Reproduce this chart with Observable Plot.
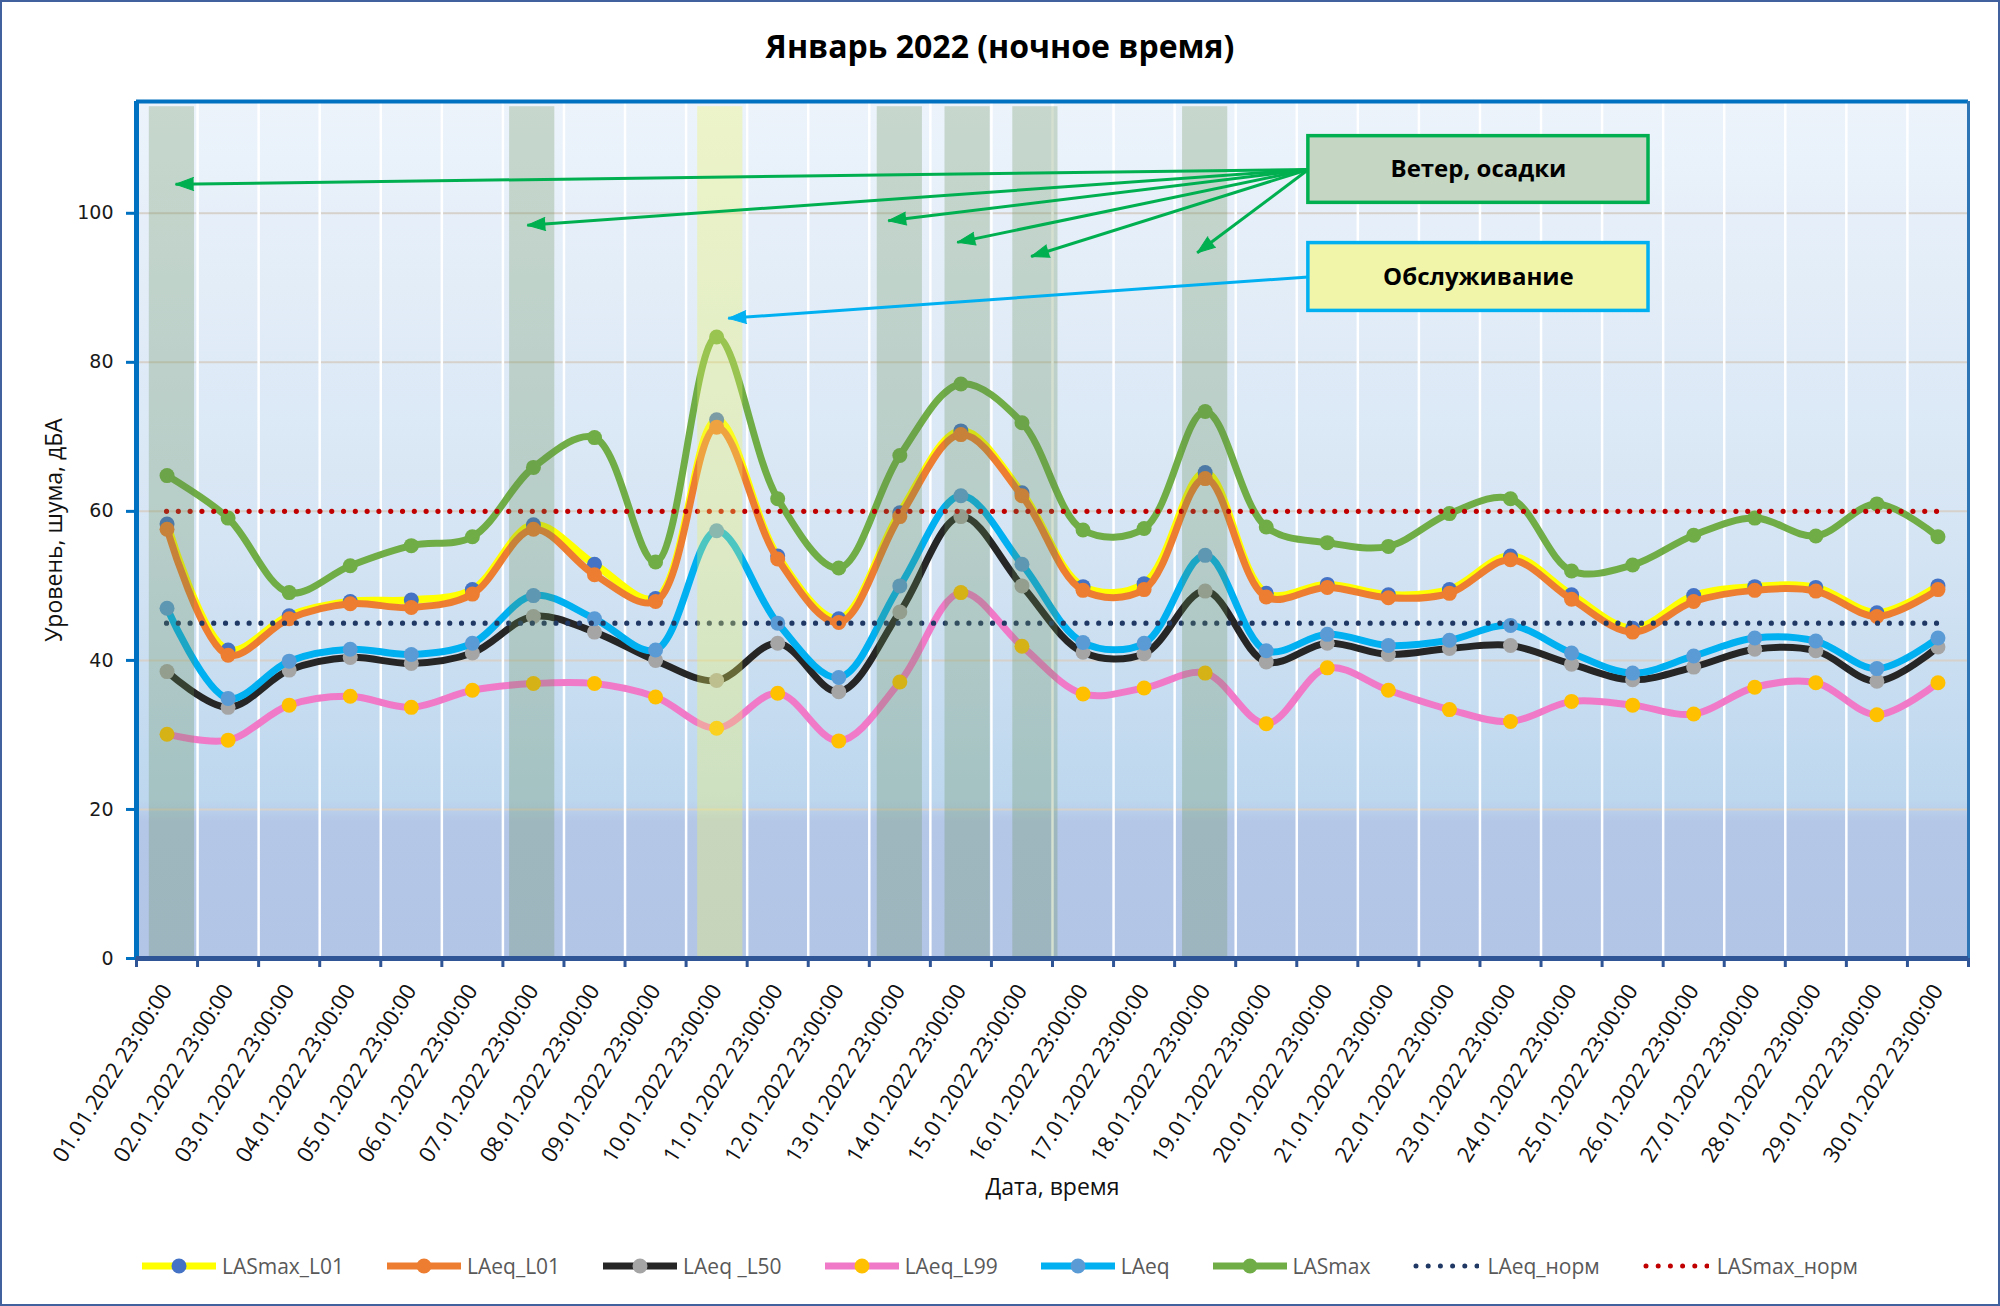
<!DOCTYPE html>
<html><head><meta charset="utf-8">
<script src="https://cdn.jsdelivr.net/npm/d3@7"></script>
<script src="https://cdn.jsdelivr.net/npm/@observablehq/plot@0.6"></script>
<style>
html,body{margin:0;padding:0;background:#fff;}
#chart{position:relative;width:2000px;height:1306px;overflow:hidden;font-family:"Open Sans",sans-serif;background:#fff;}
#plot{position:absolute;left:0;top:0;width:2000px;}
#title{position:absolute;left:0;top:24px;width:2000px;text-align:center;font-size:32px;font-weight:700;color:#000;line-height:44px;}
#legend{position:absolute;left:142px;top:1250px;height:32px;display:flex;align-items:center;font-size:21px;color:#595959;white-space:nowrap;}
#legend .item{display:flex;align-items:center;margin-right:43px;}
#legend .item span{margin-left:6px;}
#border{position:absolute;left:0;top:0;width:2000px;height:1306px;box-sizing:border-box;border:2px solid #41609e;pointer-events:none;}
</style>
</head><body>
<div id="chart">
  <div id="plot"></div>
  <div id="title"></div>
  <div id="legend"></div>
  <div id="border"></div>
</div>
<script>
// ---------- data ----------
const chartTitle = "Январь 2022 (ночное время)";
const xTitle = "Дата, время";
const yTitle = "Уровень, шума, дБА";
const dates = [
  "01.01.2022 23:00:00","02.01.2022 23:00:00","03.01.2022 23:00:00","04.01.2022 23:00:00","05.01.2022 23:00:00",
  "06.01.2022 23:00:00","07.01.2022 23:00:00","08.01.2022 23:00:00","09.01.2022 23:00:00","10.01.2022 23:00:00",
  "11.01.2022 23:00:00","12.01.2022 23:00:00","13.01.2022 23:00:00","14.01.2022 23:00:00","15.01.2022 23:00:00",
  "16.01.2022 23:00:00","17.01.2022 23:00:00","18.01.2022 23:00:00","19.01.2022 23:00:00","20.01.2022 23:00:00",
  "21.01.2022 23:00:00","22.01.2022 23:00:00","23.01.2022 23:00:00","24.01.2022 23:00:00","25.01.2022 23:00:00",
  "26.01.2022 23:00:00","27.01.2022 23:00:00","28.01.2022 23:00:00","29.01.2022 23:00:00","30.01.2022 23:00:00"
];
const lasmaxL01 = [58.3,41.4,46.0,47.9,48.1,49.5,58.2,52.9,48.3,72.3,54.0,45.6,59.8,70.8,62.5,49.9,50.3,65.2,49.0,50.2,48.8,49.5,54.0,48.8,44.3,48.7,49.9,49.8,46.4,50.0];
const laeqL01   = [57.6,40.7,45.6,47.6,47.1,48.9,57.6,51.5,47.9,71.3,53.6,45.1,59.3,70.3,62.1,49.4,49.5,64.4,48.5,49.8,48.4,49.0,53.5,48.2,43.8,47.9,49.4,49.3,45.9,49.5];
const laeqL50   = [38.5,33.7,38.7,40.4,39.6,41.0,45.9,43.8,40.0,37.3,42.3,35.8,46.5,59.3,50.0,41.1,40.9,49.3,39.8,42.3,40.8,41.6,42.0,39.5,37.4,39.1,41.5,41.3,37.2,41.8];
const laeqL99   = [30.1,29.3,34.0,35.2,33.7,36.0,36.9,36.9,35.1,30.9,35.6,29.2,37.1,49.1,41.9,35.5,36.3,38.3,31.5,39.0,36.0,33.4,31.8,34.5,34.0,32.8,36.4,37.0,32.7,37.0];
const laeq      = [47.0,34.9,39.9,41.5,40.8,42.3,48.7,45.6,41.4,57.4,45.0,37.7,50.0,62.1,52.9,42.4,42.3,54.1,41.3,43.5,42.0,42.7,44.7,41.0,38.3,40.6,43.0,42.6,38.9,43.0];
const lasmax    = [64.8,59.1,49.1,52.7,55.4,56.6,65.9,69.9,53.2,83.4,61.7,52.4,67.5,77.1,71.9,57.5,57.7,73.4,57.9,55.8,55.3,59.7,61.7,52.0,52.8,56.8,59.1,56.7,61.0,56.6];
const normLAeq = 45;
const normLASmax = 60;
// shaded periods, centre positions on the category axis
const windBands = [0.08, 5.98, 12.0, 13.11, 14.22, 17.0];
const serviceBands = [9.06];
const yTicks = [0, 20, 40, 60, 80, 100];
const yMax = 115;
const bandTop = 114.3;
const windLabel = "Ветер, осадки";
const serviceLabel = "Обслуживание";
// annotation anchors, in data units (category index, dB)
const windBox = {x1: 18.69, x2: 24.26, y1: 101.4, y2: 110.35};
const serviceBox = {x1: 18.69, x2: 24.26, y1: 86.9, y2: 96.0};
const windTips = [[0.14,103.9],[5.90,98.4],[11.81,99.0],[12.94,96.1],[14.15,94.2],[16.87,94.7]];
const serviceTip = [9.19, 85.9];

const series = [
  {name: "LASmax_L01", values: lasmaxL01, line: "#FFFF00", marker: "#4472C4", width: 7.5},
  {name: "LAeq_L01",   values: laeqL01,   line: "#ED7D31", marker: "#ED7D31", width: 7},
  {name: "LAeq _L50",  values: laeqL50,   line: "#262626", marker: "#A5A5A5", width: 7},
  {name: "LAeq_L99",   values: laeqL99,   line: "#F07AC8", marker: "#FFC000", width: 7},
  {name: "LAeq",       values: laeq,      line: "#00B0F0", marker: "#5B9BD5", width: 7},
  {name: "LASmax",     values: lasmax,    line: "#70AD47", marker: "#70AD47", width: 7}
];
const norms = [
  {name: "LAeq_норм", value: normLAeq, color: "#203864"},
  {name: "LASmax_норм", value: normLASmax, color: "#C00000"}
];

// ---------- layout ----------
const W = 2000, H = 1232;
const base = {
  width: W, height: H,
  marginLeft: 136, marginRight: 32, marginTop: 101, marginBottom: H - 958,
  x: {domain: [-0.5, dates.length - 0.5], axis: null},
  y: {domain: [0, yMax], axis: null},
  color: {type: "identity"}
};
const probe = Plot.plot({...base, marks: [Plot.dot([0], {x: d => d, y: d => d})]});
const sx = probe.scale("x"), sy = probe.scale("y");

const wMid = (windBox.y1 + windBox.y2) / 2, sMid = (serviceBox.y1 + serviceBox.y2) / 2;
const arrows = windTips.map(([x, y]) => ({x1: windBox.x1, y1: wMid, x2: x, y2: y, color: "#00B050"}))
  .concat([{x1: serviceBox.x1, y1: sMid, x2: serviceTip[0], y2: serviceTip[1], color: "#00B0F0"}]);
arrows.forEach(a => {
  const dx = sx.apply(a.x2) - sx.apply(a.x1), dy = sy.apply(a.y2) - sy.apply(a.y1);
  a.angle = Math.atan2(dx, -dy) * 180 / Math.PI;
});

const idx = d3.range(dates.length);
const boundaries = d3.range(dates.length + 1).map(i => i - 0.5);
const FONT = "Open Sans";
const halfBand = 0.37;

function buildMarks(useSpike) {
  return [
    Plot.frame({fill: "url(#plotBg)", stroke: "none"}),
    Plot.ruleY(yTicks.filter(v => v > 0), {stroke: "#D6D1CB", strokeWidth: 2}),
    Plot.ruleX(boundaries.slice(1, -1), {stroke: "#ffffff", strokeWidth: 2.5}),
    ...series.flatMap(s => [
      Plot.line(s.values, {x: (d, i) => i, y: d => d, curve: "catmull-rom", stroke: s.line, strokeWidth: s.width}),
      Plot.dot(s.values, {x: (d, i) => i, y: d => d, r: 7.5, fill: s.marker})
    ]),
    ...norms.map(n => Plot.ruleY([n.value], {x1: 0, x2: dates.length - 1, stroke: n.color, strokeWidth: 5.2, strokeDasharray: "0 11.8", strokeLinecap: "round"})),
    Plot.rectY(windBands, {x1: c => c - halfBand, x2: c => c + halfBand, y1: 0, y2: bandTop, fill: "#648c50", fillOpacity: 0.27}),
    Plot.rectY(serviceBands, {x1: c => c - halfBand, x2: c => c + halfBand, y1: 0, y2: bandTop, fill: "#eef560", fillOpacity: 0.32}),
    Plot.ruleX([-0.5], {stroke: "#0070C0", strokeWidth: 5}),
    Plot.ruleY([yMax], {stroke: "#0070C0", strokeWidth: 4}),
    Plot.ruleX([dates.length - 0.5], {stroke: "#2E75B6", strokeWidth: 3}),
    Plot.axisY(yTicks, {tickSize: 10, tickPadding: 13, stroke: "#0070C0", strokeWidth: 3, fill: "#1a1a1a", fontSize: 19, fontFamily: "DejaVu Sans", label: null}),
    Plot.axisX(boundaries, {tickFormat: () => "", tickSize: 9, stroke: "#2F5597", strokeWidth: 3, label: null}),
    Plot.ruleY([0], {stroke: "#2F5597", strokeWidth: 5}),
    Plot.axisX(idx, {tickFormat: i => dates[i], tickRotate: -58, tickSize: 0, tickPadding: 28, fontSize: 22, fontFamily: FONT, fill: "#111", label: null}),
    Plot.link(arrows, {x1: "x1", y1: "y1", x2: "x2", y2: "y2", stroke: "color", strokeWidth: 3}),
    useSpike
      ? Plot.vector(arrows, {x: "x2", y: "y2", rotate: "angle", length: 18, r: 6.5, shape: "spike", anchor: "end", fill: "color", stroke: "color", strokeWidth: 1})
      : Plot.arrow(arrows, {x1: "x1", y1: "y1", x2: "x2", y2: "y2", stroke: "color", strokeWidth: 3, headLength: 14}),
    Plot.rect([windBox], {x1: "x1", x2: "x2", y1: "y1", y2: "y2", fill: "#C5D6C3", stroke: "#00B050", strokeWidth: 3.5}),
    Plot.rect([serviceBox], {x1: "x1", x2: "x2", y1: "y1", y2: "y2", fill: "#F0F5AA", stroke: "#00B0F0", strokeWidth: 3.5}),
    Plot.text([windBox], {x: d => (d.x1 + d.x2) / 2, y: d => (d.y1 + d.y2) / 2, text: () => windLabel, fontSize: 24, fontWeight: 700, fontFamily: FONT, fill: "#000"}),
    Plot.text([serviceBox], {x: d => (d.x1 + d.x2) / 2, y: d => (d.y1 + d.y2) / 2, text: () => serviceLabel, fontSize: 24, fontWeight: 700, fontFamily: FONT, fill: "#000"}),
    Plot.text([xTitle], {text: d => d, frameAnchor: "bottom", dy: 236, fontSize: 23, fontFamily: FONT, fill: "#111"}),
    Plot.text([yTitle], {text: d => d, frameAnchor: "left", textAnchor: "middle", rotate: -90, dx: -82, fontSize: 23, fontFamily: FONT, fill: "#111"})
  ];
}

let svg;
try {
  svg = Plot.plot({...base, marks: buildMarks(true)});
} catch (e) {
  svg = Plot.plot({...base, marks: buildMarks(false)});
}
svg.style.background = "transparent";
svg.style.overflow = "visible";
svg.style.maxWidth = "none";

const defs = d3.select(svg).insert("defs", ":first-child");
const grad = defs.append("linearGradient").attr("id", "plotBg").attr("x1", 0).attr("y1", 0).attr("x2", 0).attr("y2", 1);
[[0, "#ECF3FB"], [0.5, "#D6E5F4"], [0.815, "#BDD7EE"], [0.84, "#B4C7E7"], [1, "#B3C5E6"]]
  .forEach(([o, c]) => grad.append("stop").attr("offset", o).attr("stop-color", c));

document.getElementById("plot").appendChild(svg);
document.getElementById("title").textContent = chartTitle;

// ---------- legend ----------
const leg = d3.select("#legend");
series.forEach(s => {
  const it = leg.append("div").attr("class", "item");
  const sv = it.append("svg").attr("width", 74).attr("height", 20);
  sv.append("line").attr("x1", 0).attr("x2", 74).attr("y1", 10).attr("y2", 10).attr("stroke", s.line).attr("stroke-width", 7);
  sv.append("circle").attr("cx", 37).attr("cy", 10).attr("r", 7.5).attr("fill", s.marker);
  it.append("span").text(s.name);
});
norms.forEach(n => {
  const it = leg.append("div").attr("class", "item");
  const sv = it.append("svg").attr("width", 66).attr("height", 20);
  sv.append("line").attr("x1", 3).attr("x2", 64).attr("y1", 10).attr("y2", 10).attr("stroke", n.color)
    .attr("stroke-width", 5).attr("stroke-dasharray", "0 12.2").attr("stroke-linecap", "round");
  it.append("span").style("margin-left", "8px").text(n.name);
});
</script>
</body></html>
